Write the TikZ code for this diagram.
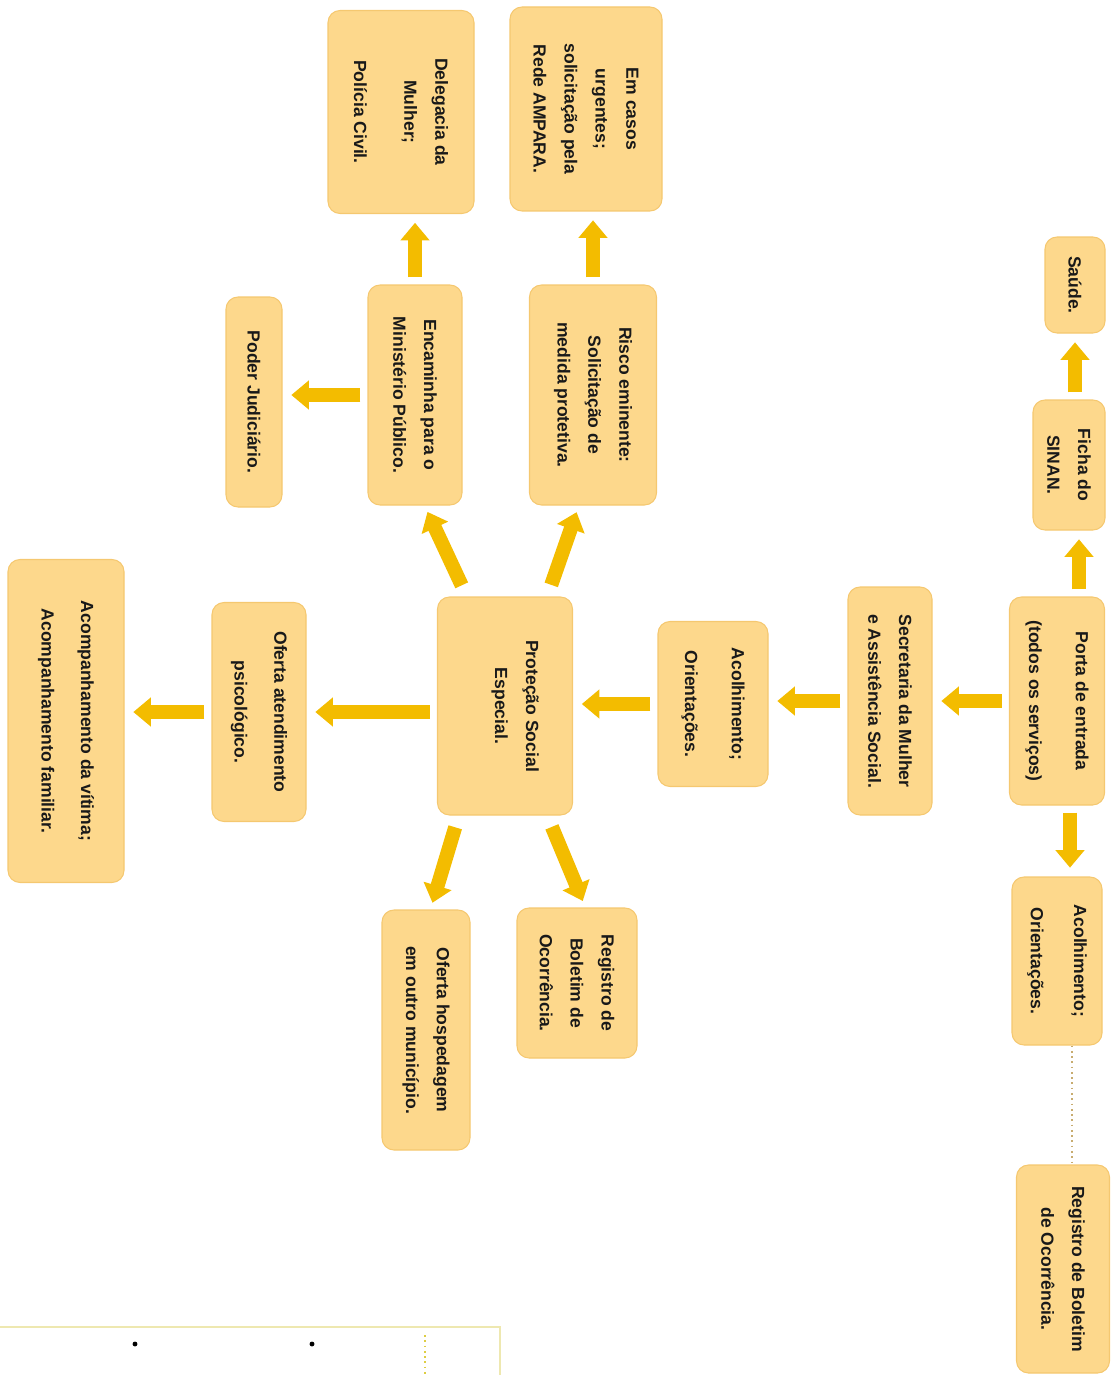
\documentclass[tikz,border=0pt]{standalone}
\usepackage{fontspec}
\setmainfont{Liberation Sans}
\usetikzlibrary{arrows.meta,calc}

\definecolor{caixafundo}{RGB}{253,216,140}
\definecolor{caixaborda}{RGB}{245,200,112}
\definecolor{setacor}{RGB}{243,188,0}
\definecolor{pontilhado}{RGB}{200,172,112}
\definecolor{moldura}{RGB}{238,232,176}

\begin{document}
\begin{tikzpicture}[x=0.02cm,y=-0.02cm,
  caixa/.style={rectangle,rounded corners=0.24cm,fill=caixafundo,draw=caixaborda,line width=0.6pt,
    rotate=-90,align=center,inner sep=2pt,text=black!90,font=\bfseries\fontsize{10}{17.6}\selectfont},
  tam/.style 2 args={minimum height=#1*0.02cm,minimum width=#2*0.02cm},
  seta/.style={draw=setacor,line width=8pt,-{Triangle[length=10pt,width=16pt]},shorten <=4pt,shorten >=5pt},
  diag/.style={seta,shorten <=7pt,shorten >=4pt}]
\useasboundingbox (0,0) rectangle (1116,1375);

\node[caixa,tam={95}{208}] (P) at (1057,701) {Porta de entrada\\[9pt](todos os serviços)};
\node[caixa,tam={72}{130}] (F) at (1069,465) {Ficha do\\SINAN.};
\node[caixa,tam={60}{96}] (Sa) at (1075,285) {Saúde.};
\node[caixa,tam={90}{168}] (Ad) at (1057,961) {Acolhimento;\\[7pt]Orientações.};
\node[caixa,tam={93}{208}] (Rd) at (1063,1269) {Registro de Boletim\\de Ocorrência.};
\node[caixa,tam={84}{228}] (S) at (890,701) {Secretaria da Mulher\\e Assistência Social.};
\node[caixa,tam={110}{165}] (Am) at (713,704) {Acolhimento;\\[9pt]Orientações.};
\node[caixa,tam={135}{218}] (Pr) at (505,706) {Proteção Social\\Especial.\\[-4pt]};
\node[caixa,tam={127}{220}] (Ri) at (593,395) {Risco eminente:\\Solicitação de\\medida protetiva.};
\node[caixa,tam={152}{204}] (Ur) at (586,109) {Em casos\\urgentes;\\solicitação pela\\Rede AMPARA.};
\node[caixa,tam={94}{220}] (En) at (415,395) {Encaminha para o\\Ministério Público.};
\node[caixa,tam={146}{203}] (De) at (401,112) {Delegacia da\\Mulher;\\[11pt]Polícia Civil.};
\node[caixa,tam={56}{210}] (Pj) at (254,402) {Poder Judiciário.};
\node[caixa,tam={94}{219}] (Op) at (259,712) {Oferta atendimento\\[5pt]psicológico.};
\node[caixa,tam={116}{323}] (Ac) at (66,721) {Acompanhamento da vítima;\\[5pt]Acompanhamento familiar.};
\node[caixa,tam={120}{150}] (Rb) at (577,983) {Registro de\\Boletim de\\Ocorrência.};
\node[caixa,tam={88}{240}] (Oh) at (426,1030) {Oferta hospedagem\\em outro município.};

\draw[seta] (P) -- (S);
\draw[seta] (S.south) -- (S.south -| Am.north);
\draw[seta] (Am.south) -- (Am.south -| Pr.north);
\draw[seta] (Pr.south |- Op) -- (Op.north);
\draw[seta] (Op.south) -- (Op.south -| Ac.north);
\draw[seta] ([xshift=0.2cm]P.west -| F) -- ([xshift=0.2cm]F.east);
\draw[seta] (F.west -| Sa) -- (Sa.east);
\draw[seta] ([xshift=0.26cm]P.east) -- ([xshift=0.26cm]Ad.west);
\draw[pontilhado,line width=1pt,dotted] ([xshift=0.3cm]Ad.east) -- ([xshift=0.3cm]Ad.east |- Rd.west);
\draw[seta] (Ri.west) -- (Ri.west |- Ur.east);
\draw[seta] (En.west) -- (En.west |- De.east);
\draw[seta] (En.south) -- (En.south -| Pj.north);
\draw[diag] ($(Pr.south west)!0.81!(Pr.north west)$) -- ($(Ri.south east)!0.39!(Ri.north east)$);
\draw[diag] ($(Pr.south west)!0.22!(Pr.north west)$) -- ($(En.south east)!0.6!(En.north east)$);
\draw[diag] ($(Pr.south east)!0.81!(Pr.north east)$) -- ($(Rb.south west)!0.57!(Rb.north west)$);
\draw[diag] ($(Pr.south east)!0.16!(Pr.north east)$) -- ($(Oh.south west)!0.55!(Oh.north west)$);

\draw[moldura,line width=1.2pt] (0,1327) -- (500,1327) -- (500,1375);
\draw[pontilhado!60!yellow,line width=1pt,dotted] (425,1335) -- (425,1375);
\fill (135,1344) circle (1.4pt);
\fill (312,1344) circle (1.4pt);
\end{tikzpicture}
\end{document}
